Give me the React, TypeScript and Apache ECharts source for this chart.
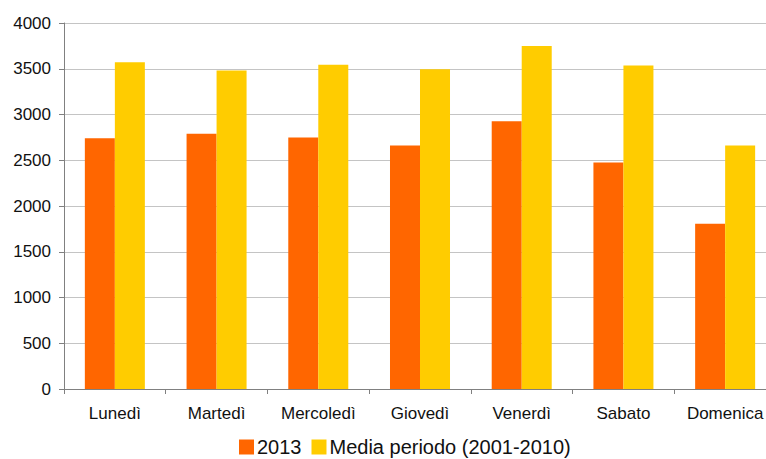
import React, { useEffect, useRef } from "react";
import * as echarts from "echarts";

const days = ["Lunedì", "Martedì", "Mercoledì", "Giovedì", "Venerdì", "Sabato", "Domenica"];
const values2013 = [2740, 2790, 2750, 2660, 2925, 2475, 1805];
const valuesMedia = [3570, 3480, 3545, 3495, 3750, 3535, 2660];
const seriesNames = ["2013", "Media periodo (2001-2010)"];
const seriesColors = ["#FF6600", "#FFCC00"];

const FONT = "'Liberation Sans', Arial, sans-serif";

export default function App() {
  const ref = useRef<HTMLDivElement>(null);

  useEffect(() => {
    if (!ref.current) return;
    const chart = echarts.init(ref.current, undefined, { renderer: "svg" });
    chart.setOption({
      animation: false,
      backgroundColor: "#ffffff",
      textStyle: { fontFamily: FONT },
      grid: { left: 64, right: 10, top: 23, bottom: 70, containLabel: false },
      legend: {
        left: 239,
        top: 437,
        padding: 0,
        itemWidth: 15,
        itemHeight: 15,
        itemGap: 10,
        icon: "rect",
        textStyle: { fontSize: 20, color: "#111", fontFamily: FONT, padding: [0, 0, 0, -2] },
        data: seriesNames,
      },
      xAxis: {
        type: "category",
        data: days,
        axisLine: { lineStyle: { color: "#808080", width: 1 } },
        axisTick: { show: true, length: 5, lineStyle: { color: "#808080" } },
        axisLabel: { fontSize: 17, color: "#111", margin: 16, fontFamily: FONT },
      },
      yAxis: {
        type: "value",
        min: 0,
        max: 4000,
        interval: 500,
        axisLine: { show: true, lineStyle: { color: "#808080", width: 1 } },
        axisTick: { show: true, length: 5, lineStyle: { color: "#808080" } },
        axisLabel: {
          fontSize: 17,
          color: "#111",
          margin: 13,
          fontFamily: FONT,
          formatter: (v: number) => String(v),
        },
        splitLine: { show: true, lineStyle: { color: "#c4c4c4", width: 1 } },
      },
      series: [
        {
          name: seriesNames[0],
          type: "bar",
          data: values2013,
          itemStyle: { color: seriesColors[0] },
          barGap: "0%",
          barCategoryGap: "41%",
        },
        {
          name: seriesNames[1],
          type: "bar",
          data: valuesMedia,
          itemStyle: { color: seriesColors[1] },
          barGap: "0%",
          barCategoryGap: "41%",
        },
      ],
    });
    return () => chart.dispose();
  }, []);

  return (
    <div
      style={{
        position: "fixed",
        left: 0,
        top: 0,
        width: 766,
        height: 459,
        overflow: "hidden",
        background: "#fff",
      }}
    >
      <div ref={ref} style={{ width: 786, height: 459 }} />
    </div>
  );
}
